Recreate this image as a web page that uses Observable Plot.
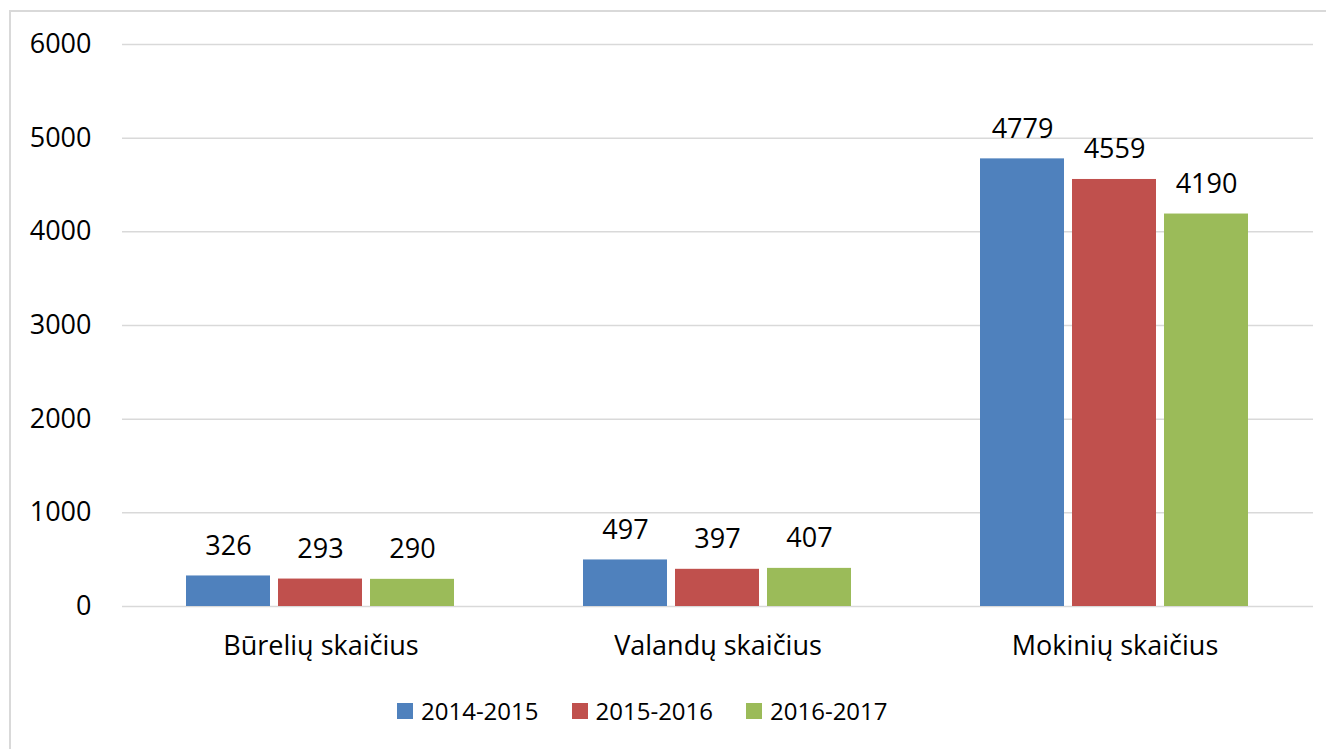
<!DOCTYPE html>
<html><head><meta charset="utf-8">
<script src="https://cdn.jsdelivr.net/npm/d3@7"></script>
<script src="https://cdn.jsdelivr.net/npm/@observablehq/plot@0.6"></script>
<style>
body{margin:0;background:#fff;font-family:"Open Sans",sans-serif;width:1326px;height:749px;overflow:hidden;position:relative;}
#frame{position:absolute;left:9px;top:10px;width:1340px;height:770px;border-left:2px solid #d9d9d9;border-top:2px solid #d9d9d9;box-sizing:border-box;}
#chart{position:absolute;left:0;top:0;}
#legend{position:absolute;left:397px;top:694px;display:flex;align-items:center;font-size:24px;color:#000;line-height:34px;}
#legend .item{display:flex;align-items:center;margin-right:33px;}
#legend .sw{width:16px;height:16px;margin-right:8px;}
</style>
</head><body>
<div id="frame"></div>
<div id="chart"></div>
<div id="legend"></div>
<script>
const categories = ["Būrelių skaičius", "Valandų skaičius", "Mokinių skaičius"];
const seasons = ["2014-2015", "2015-2016", "2016-2017"];
const values2014 = [326, 497, 4779];
const values2015 = [293, 397, 4559];
const values2016 = [290, 407, 4190];
const colors = ["#4f81bd", "#c0504d", "#9bbb59"];
const yTicks = [0, 1000, 2000, 3000, 4000, 5000, 6000];

const series = [values2014, values2015, values2016];
const data = [];
categories.forEach((c, i) => {
  seasons.forEach((s, j) => {
    data.push({category: c, season: s, value: series[j][i]});
  });
});

const chart = Plot.plot({
  width: 1326,
  height: 680,
  marginTop: 44,
  marginBottom: 74,
  marginLeft: 122,
  marginRight: 13,
  style: {fontFamily: "Open Sans", fontSize: "27px", color: "#000", background: "transparent"},
  fx: {domain: categories, padding: 0, label: null, axis: "bottom", tickSize: 0, tickPadding: 29},
  x: {domain: seasons, paddingInner: 0.086, paddingOuter: 0.678, axis: null},
  y: {domain: [0, 6000], ticks: yTicks, tickSize: 0, tickPadding: 31, label: null, tickFormat: d => String(d)},
  color: {domain: seasons, range: colors},
  marks: [
    Plot.gridY(yTicks, {stroke: "#d9d9d9", strokeOpacity: 1, strokeWidth: 1.5}),
    Plot.barY(data, {fx: "category", x: "season", y: "value", fill: "season"}),
    Plot.text(data, {fx: "category", x: "season", y: "value", text: d => String(d.value), dy: -30, fontSize: 27, fill: "#000"})
  ]
});
document.getElementById("chart").appendChild(chart);

const legend = document.getElementById("legend");
seasons.forEach((s, j) => {
  const item = document.createElement("div");
  item.className = "item";
  const sw = document.createElement("div");
  sw.className = "sw";
  sw.style.background = colors[j];
  const t = document.createElement("span");
  t.textContent = s;
  item.appendChild(sw);
  item.appendChild(t);
  legend.appendChild(item);
});
</script>
</body></html>
